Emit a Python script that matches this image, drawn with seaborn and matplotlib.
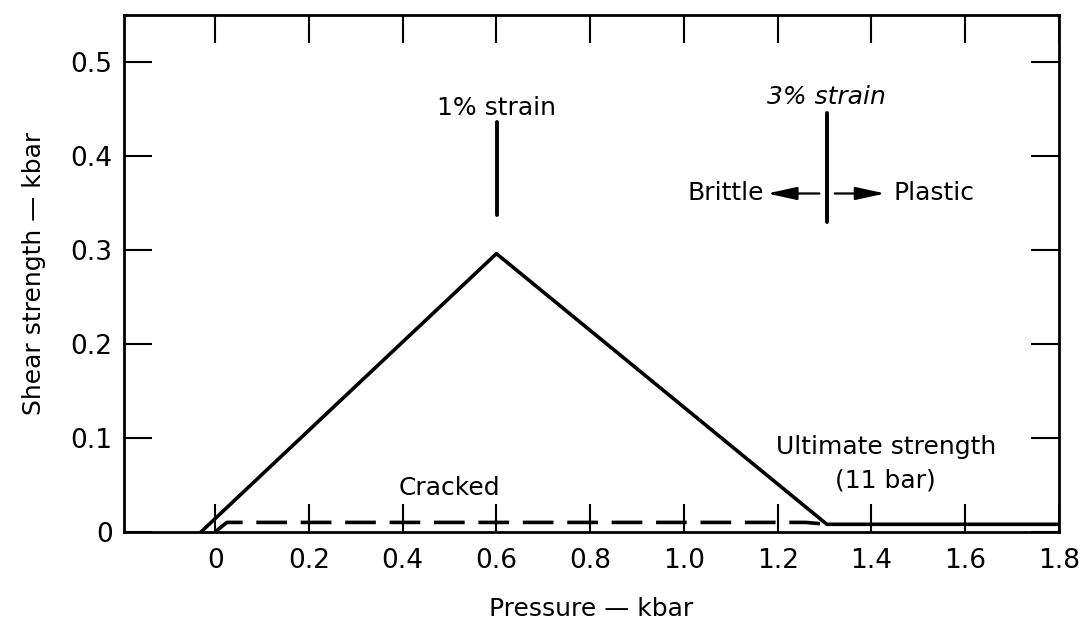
import seaborn as sns
import matplotlib.pyplot as plt
import pandas as pd

# Solid curve: intact strength (kbar)
pressure = [-0.03, 0.6, 1.305, 1.8]
strength = [0.0, 0.296, 0.008, 0.008]

# Dashed curve: cracked material
cracked_p = [0.0, 0.025, 1.26, 1.305]
cracked_s = [0.0, 0.01, 0.01, 0.008]

xticks = [0, 0.2, 0.4, 0.6, 0.8, 1.0, 1.2, 1.4, 1.6, 1.8]
xticklabels = ["0", "0.2", "0.4", "0.6", "0.8", "1.0", "1.2", "1.4", "1.6", "1.8"]
yticks = [0, 0.1, 0.2, 0.3, 0.4, 0.5]
yticklabels = ["0", "0.1", "0.2", "0.3", "0.4", "0.5"]

sns.set_style("ticks")
plt.rcParams['font.family'] = ['DejaVu Sans']
plt.rcParams['text.color'] = 'black'
plt.rcParams['axes.labelcolor'] = 'black'
FS = 18

fig = plt.figure(figsize=(10.86, 6.22), dpi=100)
ax = fig.add_axes([0.114, 0.145, 0.861, 0.831])

df = pd.DataFrame({"p": pressure, "s": strength})
dfc = pd.DataFrame({"p": cracked_p, "s": cracked_s})
sns.lineplot(data=df, x="p", y="s", ax=ax, color="black", linewidth=2.6,
             sort=False)
sns.lineplot(data=dfc, x="p", y="s", ax=ax, color="black", linewidth=2.6,
             sort=False)
ax.lines[-1].set_dashes([8.5, 3.8])

ax.set_xlim(-0.195, 1.8)
ax.set_ylim(0, 0.55)
ax.set_xticks(xticks)
ax.set_xticklabels(xticklabels)
ax.set_yticks(yticks)
ax.set_yticklabels(yticklabels)
ax.tick_params(direction="in", length=20, width=1.5, top=True, right=True,
               labelsize=19, colors="black")
ax.tick_params(axis="x", pad=12)
ax.tick_params(axis="y", pad=8)
for sp in ax.spines.values():
    sp.set_linewidth(2)
    sp.set_color("black")

ax.set_xlabel("Pressure — kbar", fontsize=FS, labelpad=16)
ax.set_ylabel("Shear strength — kbar", fontsize=FS, labelpad=18)

# annotations
ax.text(0.6, 0.451, "1% strain", ha="center", va="center", fontsize=FS)
ax.plot([0.602, 0.602], [0.337, 0.436], color="black", lw=2.8)

ax.text(1.305, 0.463, "3% strain", ha="center", va="center", fontsize=FS,
        style="italic")
ax.plot([1.305, 1.305], [0.33, 0.446], color="black", lw=2.8)

ax.annotate("", xy=(1.172, 0.36), xytext=(1.295, 0.36),
            arrowprops=dict(arrowstyle="-|>,head_length=1.0,head_width=0.22",
                            color="black", lw=1.6, mutation_scale=18))
ax.annotate("", xy=(1.435, 0.36), xytext=(1.316, 0.36),
            arrowprops=dict(arrowstyle="-|>,head_length=1.0,head_width=0.22",
                            color="black", lw=1.6, mutation_scale=18))
ax.text(1.17, 0.36, "Brittle", ha="right", va="center", fontsize=FS)
ax.text(1.448, 0.36, "Plastic", ha="left", va="center", fontsize=FS)

ax.text(1.432, 0.09, "Ultimate strength", ha="center", va="center", fontsize=FS)
ax.text(1.43, 0.055, "(11 bar)", ha="center", va="center", fontsize=FS)
ax.text(0.5, 0.047, "Cracked", ha="center", va="center", fontsize=FS)

fig.savefig("out.png", dpi=100)
